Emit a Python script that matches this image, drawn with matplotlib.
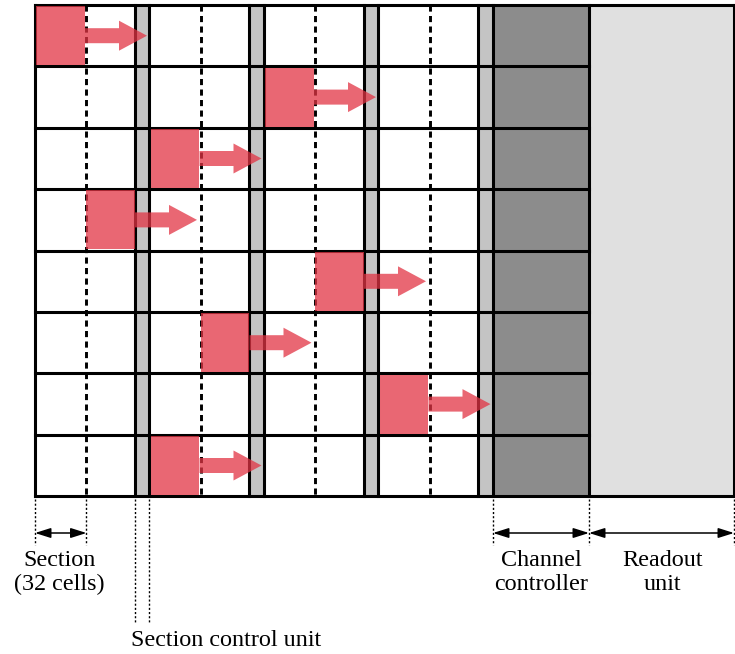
import matplotlib
matplotlib.use("Agg")
import matplotlib.pyplot as plt
from matplotlib.patches import Rectangle, Polygon

# ---- data ----
n_rows = 8
red_block = [0, 2, 1, 0, 2, 1, 3, 1]      # which block (section pair) holds the active section
red_section = [0, 0, 0, 1, 1, 1, 0, 0]    # which section inside the block
labels_section = ["Section", "(32 cells)"]
label_scu = "Section control unit"
labels_channel = ["Channel", "controller"]
labels_readout = ["Readout", "unit"]

# ---- layout ----
X0 = 35.0
SEC_W = 50.0
PAIR_W = 100.0
STRIP_W = 14.5
BLOCK_W = PAIR_W + STRIP_W
N_BLOCKS = 4
CTRL_X0 = X0 + N_BLOCKS * BLOCK_W
CTRL_X1 = 589.0
READ_X1 = 734.0
Y0 = 5.0
ROW_H = 61.4
Y1 = Y0 + n_rows * ROW_H

RED = (0.886, 0.204, 0.267)
ALPHA = 0.75

fig = plt.figure(figsize=(7.35, 6.54), dpi=100)
ax = fig.add_axes([0, 0, 1, 1])
ax.set_xlim(0, 735)
ax.set_ylim(654, 0)
ax.axis("off")
plt.rcParams["font.family"] = ["Liberation Serif", "DejaVu Serif"]

# backgrounds
for b in range(N_BLOCKS):
    bx = X0 + b * BLOCK_W
    ax.add_patch(Rectangle((bx + PAIR_W, Y0), STRIP_W, Y1 - Y0, facecolor="#c4c4c4", edgecolor="none", zorder=1))
ax.add_patch(Rectangle((CTRL_X0, Y0), CTRL_X1 - CTRL_X0, Y1 - Y0, facecolor="#8c8c8c", edgecolor="none", zorder=1))
ax.add_patch(Rectangle((CTRL_X1, Y0), READ_X1 - CTRL_X1, Y1 - Y0, facecolor="#e0e0e0", edgecolor="none", zorder=1))

LW = 2.2
# dashed section dividers
for b in range(N_BLOCKS):
    dx = X0 + b * BLOCK_W + SEC_W + 1.5
    ax.plot([dx, dx], [Y0, Y1], color="black", lw=2.1, dashes=(2.1, 1.5), zorder=2)

# row lines
for r in range(n_rows + 1):
    y = Y0 + r * ROW_H
    x_end = READ_X1 if r in (0, n_rows) else CTRL_X1
    ax.plot([X0, x_end], [y, y], color="black", lw=LW, zorder=3, solid_capstyle="projecting")

# vertical lines
vx = [X0]
for b in range(N_BLOCKS):
    bx = X0 + b * BLOCK_W
    vx += [bx + PAIR_W, bx + BLOCK_W]
vx += [CTRL_X1, READ_X1]
for x in vx:
    ax.plot([x, x], [Y0, Y1], color="black", lw=LW, zorder=3, solid_capstyle="projecting")

# red active sections and arrows
ARROW_LEN = 62.0
SHAFT_H = 15.0
HEAD_H = 30.0
HEAD_L = 28.0
for r in range(n_rows):
    sx = X0 + red_block[r] * BLOCK_W + red_section[r] * SEC_W
    y = Y0 + r * ROW_H
    ax.add_patch(Rectangle((sx + 1.2, y + 1.2), SEC_W - 1.2, ROW_H - 2.4, facecolor=RED, alpha=ALPHA,
                           edgecolor="none", zorder=4))
    ax0 = sx + SEC_W
    yc = y + ROW_H / 2
    tip = ax0 + ARROW_LEN
    hb = tip - HEAD_L
    pts = [(ax0, yc - SHAFT_H / 2), (hb, yc - SHAFT_H / 2), (hb, yc - HEAD_H / 2), (tip, yc),
           (hb, yc + HEAD_H / 2), (hb, yc + SHAFT_H / 2), (ax0, yc + SHAFT_H / 2)]
    ax.add_patch(Polygon(pts, closed=True, facecolor=RED, alpha=ALPHA, edgecolor="none", zorder=4))

# annotations
def dotted(x, y_end):
    ax.plot([x, x], [Y1 + 3, y_end], color="black", lw=1.0, dashes=(1.5, 1.5), zorder=3)

def dim_arrow(x_a, x_b, y):
    ax.annotate("", xy=(x_b, y), xytext=(x_a, y),
                arrowprops=dict(arrowstyle="<|-|>,head_length=0.95,head_width=0.3", lw=1.1,
                                color="black", shrinkA=0, shrinkB=0, mutation_scale=10))

FS = 17.4
sec_x1 = X0 + SEC_W + 1.5
dotted(X0, 545); dotted(sec_x1, 545)
dim_arrow(X0, sec_x1, 533)
cx = (X0 + sec_x1) / 2 - 1
ax.text(cx, 566, labels_section[0], ha="center", va="baseline", fontsize=FS)
ax.text(cx, 590, labels_section[1], ha="center", va="baseline", fontsize=FS)

dotted(X0 + PAIR_W, 622); dotted(X0 + BLOCK_W, 622)
ax.text(131, 646, label_scu, ha="left", va="baseline", fontsize=FS)

dotted(CTRL_X0, 545); dotted(CTRL_X1, 545); dotted(READ_X1, 545)
dim_arrow(CTRL_X0, CTRL_X1, 533)
dim_arrow(CTRL_X1, READ_X1, 533)
cc = (CTRL_X0 + CTRL_X1) / 2
rc = (CTRL_X1 + READ_X1) / 2 + 1
ax.text(cc, 566, labels_channel[0], ha="center", va="baseline", fontsize=FS)
ax.text(cc, 590, labels_channel[1], ha="center", va="baseline", fontsize=FS)
ax.text(rc, 566, labels_readout[0], ha="center", va="baseline", fontsize=FS)
ax.text(rc, 590, labels_readout[1], ha="center", va="baseline", fontsize=FS)

fig.savefig("out.png", dpi=100)
